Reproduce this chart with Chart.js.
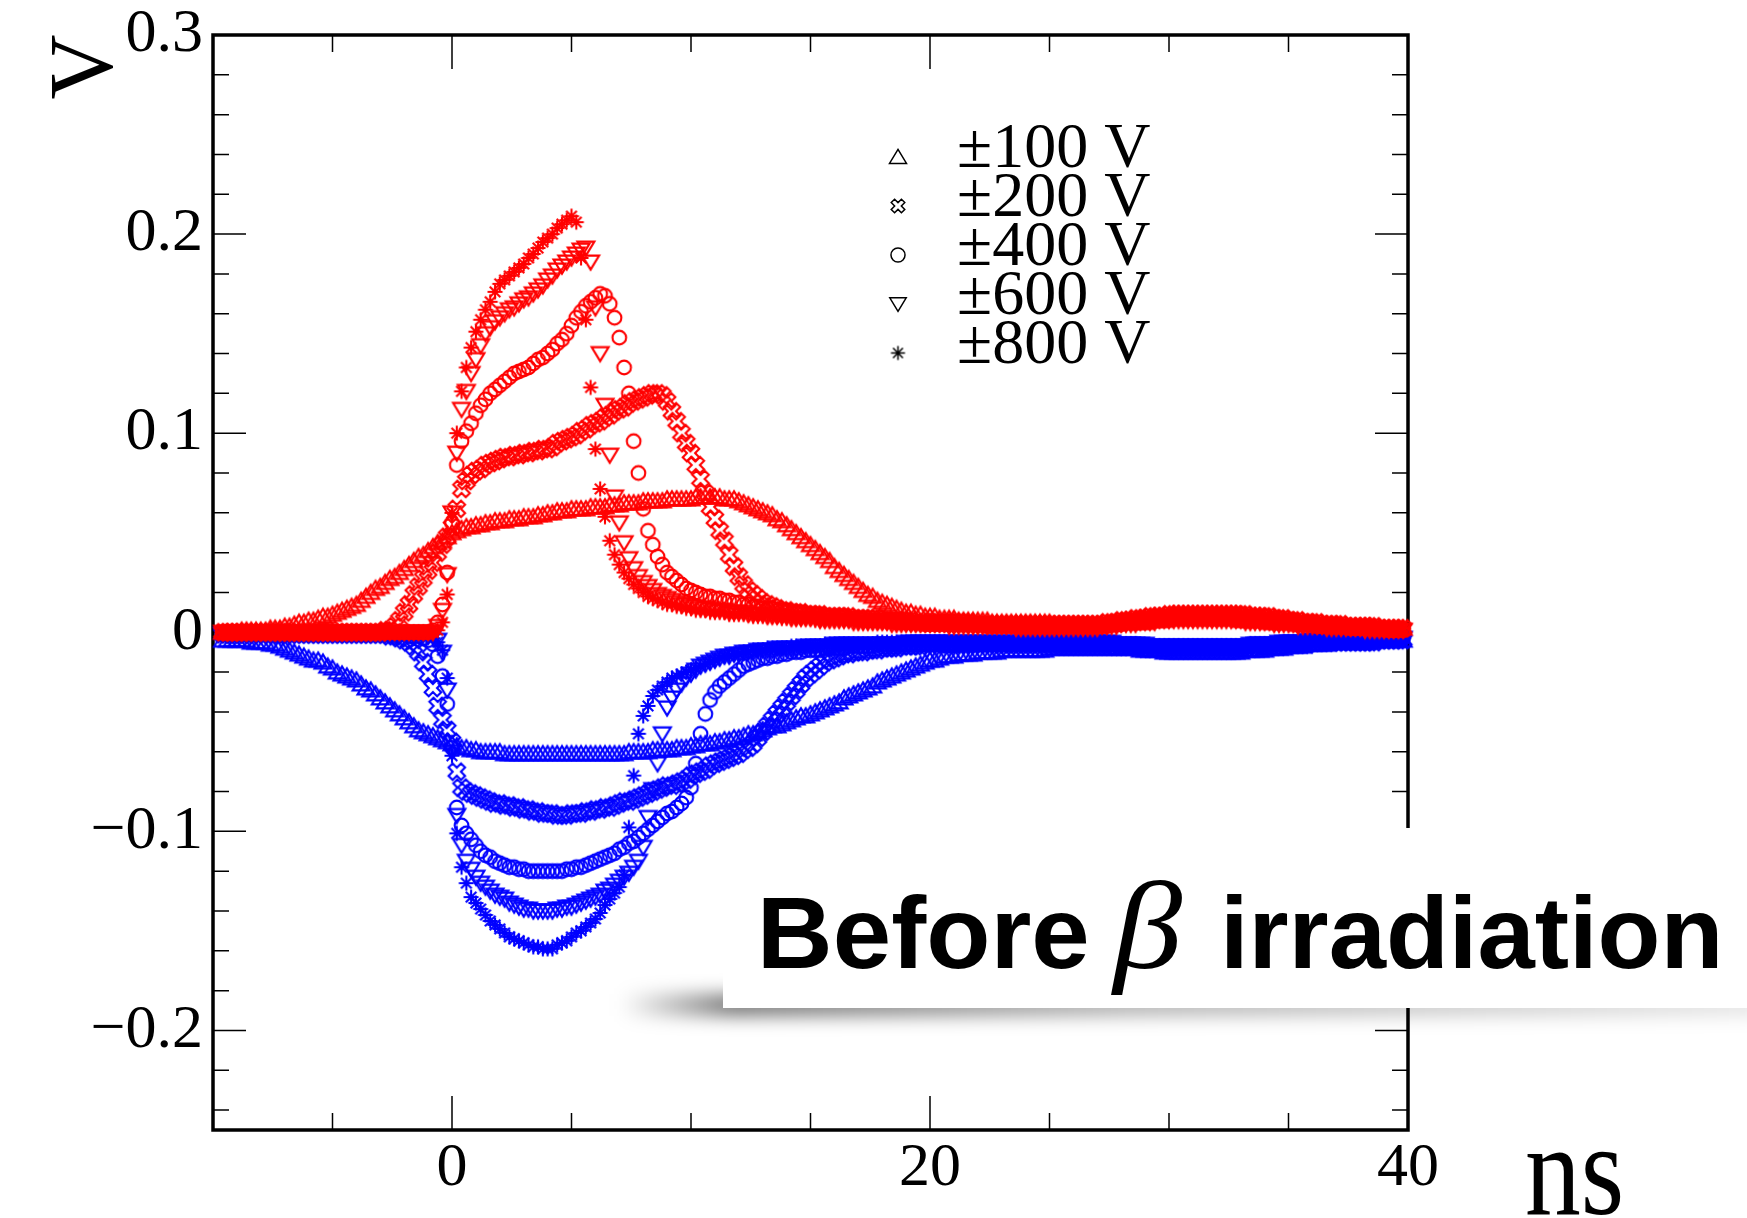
<!DOCTYPE html>
<html lang="en">

<head>
    <meta charset="UTF-8">
    <title>Signal pulses - before beta irradiation</title>
    <script src="https://cdn.jsdelivr.net/npm/chart.js"></script>
    <style>
        body { margin: 0; background: #fff; }
        canvas { display: block; }
    </style>
</head>

<body>
    <canvas id="pulseChart" width="1747" height="1218"></canvas>

    <script>
        // sample grid of the scope traces (ns)
        const T0 = -9.6;
        const DT = 0.2;

        const voltages = [100, 200, 400, 600, 800];
        const xTickValues = [0, 20, 40];
        const yTickValues = [-0.2, -0.1, 0, 0.1, 0.2, 0.3];

        // positive bias pulses, mV
        const red100 = [
            0,0,0,0,1,1,1,1,1,1,
            2,2,2,3,3,4,5,5,6,6,
            7,8,8,9,10,11,12,13,14,16,
            18,20,22,23,25,27,28,30,32,34,
            36,38,39,41,43,45,46,48,50,51,
            52,53,53,54,54,55,55,56,56,56,
            57,57,57,58,58,58,59,59,60,60,
            61,61,61,62,62,62,62,63,63,63,
            63,64,64,64,65,65,65,65,66,66,
            66,66,66,67,67,67,67,67,67,68,
            68,68,68,68,68,67,67,67,66,65,
            64,63,62,61,60,59,57,56,54,52,
            50,48,46,44,42,40,38,36,33,31,
            29,27,25,23,21,19,18,16,15,14,
            13,12,11,10,10,9,9,8,8,8,
            7,7,7,7,6,6,6,6,6,6,
            6,5,5,5,5,5,5,5,5,5,
            5,5,5,5,4,4,4,4,4,4,
            4,4,4,4,4,4,4,5,5,5,
            5,5,5,5,6,6,6,6,7,7,
            7,7,7,7,7,7,7,7,7,7,
            7,7,7,6,6,6,6,6,6,5,
            5,5,5,5,5,4,4,4,4,4,
            4,4,3,3,3,3,3,3,3,3,
            3,2,2,2,2,2,2,2
        ];
        const red200 = [
            0,0,0,0,0,0,0,0,0,0,
            0,0,0,0,0,0,0,0,0,0,
            0,0,0,0,0,0,0,0,0,0,
            0,0,0,0,1,1,3,6,10,14,
            19,23,27,31,35,40,44,48,53,62,
            72,76,79,81,82,84,85,86,87,88,
            88,89,89,90,90,91,91,92,92,93,
            95,96,97,98,99,101,102,104,105,106,
            108,109,111,112,113,115,116,117,118,119,
            120,120,119,116,111,106,100,95,90,84,
            77,70,63,57,51,46,39,33,28,24,
            21,19,17,15,14,13,12,11,11,10,
            10,10,9,9,9,9,8,8,8,8,
            8,8,7,7,7,7,7,7,6,6,
            6,6,6,6,6,5,5,5,5,5,
            5,5,5,5,5,5,5,4,4,4,
            4,4,4,4,4,4,4,4,4,4,
            4,4,4,4,4,4,4,4,4,4,
            4,4,4,4,4,5,5,5,6,6,
            6,7,7,7,8,8,8,8,9,9,
            9,9,9,9,9,9,9,9,9,9,
            9,9,9,9,9,8,8,8,8,8,
            7,7,7,6,6,6,5,5,5,5,
            4,4,4,4,4,3,3,3,3,3,
            3,3,2,2,2,2,2,2
        ];
        const red400 = [
            0,0,0,0,0,0,0,0,0,0,
            0,0,0,0,0,0,0,0,0,0,
            0,0,0,0,0,0,0,0,0,0,
            0,0,0,0,0,0,0,0,0,0,
            0,0,0,0,1,5,14,30,55,84,
            96,101,105,110,114,117,120,122,124,126,
            128,130,131,132,133,135,137,138,140,142,
            145,147,150,154,158,161,164,166,168,170,
            169,165,158,148,133,120,96,80,62,51,
            44,38,34,30,28,26,24,22,21,20,
            19,18,18,17,17,16,16,15,15,14,
            14,13,13,12,12,12,11,11,11,10,
            10,10,9,9,9,9,8,8,8,8,
            8,7,7,7,7,6,6,6,6,6,
            6,5,5,5,5,5,5,4,4,4,
            4,4,4,4,4,4,4,4,4,4,
            3,3,3,3,3,3,3,3,3,3,
            3,3,3,3,3,3,3,3,3,3,
            3,3,3,3,3,3,4,4,4,5,
            5,5,6,6,6,7,7,7,7,7,
            8,8,8,8,8,8,8,8,8,8,
            8,8,7,7,7,7,7,6,6,6,
            6,5,5,5,5,4,4,4,4,3,
            3,3,3,3,3,3,2,2,2,2,
            2,2,2,2,1,1,1,1
        ];
        const red600 = [
            0,0,0,0,0,0,0,0,0,0,
            0,0,0,0,0,0,0,0,0,0,
            0,0,0,0,0,0,0,0,0,0,
            0,0,0,0,0,0,0,0,0,0,
            0,0,0,0,0,3,11,29,60,90,
            112,121,130,137,144,150,153,156,158,160,
            162,163,165,167,168,170,172,174,177,179,
            182,184,186,188,190,192,193,186,163,140,
            114,89,68,55,45,37,32,28,25,23,
            21,19,18,17,16,15,14,14,13,13,
            12,12,12,11,11,11,10,10,10,10,
            9,9,9,9,8,8,8,8,8,7,
            7,7,7,7,7,6,6,6,6,6,
            6,6,5,5,5,5,5,5,5,5,
            4,4,4,4,4,4,4,4,4,4,
            4,4,3,3,3,3,3,3,3,3,
            3,3,3,3,3,3,2,2,2,2,
            2,2,2,2,2,2,2,2,2,2,
            2,2,2,2,3,3,3,3,4,4,
            4,4,5,5,5,5,6,6,6,6,
            6,6,6,6,6,6,6,6,6,6,
            6,6,6,6,5,5,5,5,5,5,
            4,4,4,4,4,3,3,3,3,3,
            3,2,2,2,2,2,2,2,2,1,
            1,1,1,1,1,1,1,1
        ];
        const red800 = [
            0,0,0,0,0,0,0,0,0,0,
            0,0,0,0,0,0,0,0,0,0,
            0,0,0,0,0,0,0,0,0,0,
            0,0,0,0,0,0,0,0,0,0,
            0,0,0,0,0,1,5,19,60,100,
            121,133,143,151,157,162,166,171,175,177,
            179,181,183,185,188,190,193,196,198,200,
            203,205,207,209,206,188,157,123,92,72,
            58,46,39,34,30,27,24,22,20,18,
            17,16,15,14,14,13,13,12,12,11,
            11,11,10,10,10,10,9,9,9,9,
            9,8,8,8,8,8,8,7,7,7,
            7,7,7,7,6,6,6,6,6,6,
            6,6,6,5,5,5,5,5,5,5,
            5,5,5,5,5,4,4,4,4,4,
            4,4,4,4,4,4,4,4,4,4,
            4,4,4,4,4,4,4,4,4,4,
            4,4,4,4,4,4,4,4,4,4,
            4,4,4,4,5,5,5,6,6,7,
            7,7,8,8,8,9,9,9,9,10,
            10,10,10,10,10,10,10,10,10,10,
            10,10,10,9,9,9,9,9,8,8,
            8,7,7,7,6,6,6,5,5,5,
            5,4,4,4,4,4,3,3,3,3,
            3,3,3,2,2,2,2,2
        ];

        // negative bias pulses, mV
        const blue100 = [
            -4,-4,-4,-4,-4,-4,-5,-5,-5,-5,
            -6,-6,-7,-8,-9,-10,-11,-12,-13,-14,
            -14,-15,-17,-18,-20,-21,-22,-23,-24,-26,
            -28,-29,-31,-33,-35,-37,-39,-41,-43,-45,
            -47,-49,-50,-51,-52,-53,-54,-55,-56,-57,
            -58,-58,-59,-59,-60,-60,-60,-60,-60,-61,
            -61,-61,-61,-61,-61,-61,-61,-61,-61,-61,
            -61,-61,-61,-61,-61,-61,-61,-61,-61,-61,
            -61,-61,-61,-61,-61,-60,-60,-60,-60,-60,
            -59,-59,-59,-59,-59,-58,-58,-58,-57,-57,
            -56,-56,-56,-55,-55,-54,-54,-53,-53,-52,
            -51,-51,-50,-49,-48,-47,-47,-46,-45,-44,
            -43,-42,-42,-41,-40,-39,-38,-37,-36,-35,
            -33,-32,-31,-30,-29,-28,-27,-25,-24,-23,
            -22,-21,-20,-19,-18,-17,-16,-15,-14,-14,
            -13,-12,-12,-12,-11,-11,-11,-11,-10,-10,
            -10,-10,-10,-9,-9,-9,-9,-9,-9,-9,
            -9,-9,-9,-8,-8,-8,-8,-8,-8,-8,
            -8,-8,-8,-8,-8,-8,-8,-8,-8,-8,
            -8,-8,-9,-9,-9,-9,-9,-10,-10,-10,
            -10,-10,-10,-10,-10,-10,-10,-10,-10,-10,
            -10,-10,-10,-10,-9,-9,-9,-9,-9,-8,
            -8,-8,-8,-7,-7,-7,-7,-6,-6,-6,
            -6,-6,-5,-5,-5,-5,-5,-5,-5,-5,
            -5,-4,-4,-4,-4,-4,-4,-4
        ];
        const blue200 = [
            -1,-1,-1,-1,-1,-1,-1,-1,-1,-1,
            -1,-1,-1,-1,-1,-1,-1,-1,-1,-1,
            -1,-1,-1,-1,-1,-1,-1,-1,-1,-1,
            -1,-1,-1,-1,-1,-2,-2,-3,-4,-5,
            -7,-10,-15,-21,-28,-37,-44,-49,-55,-70,
            -78,-80,-81,-82,-83,-84,-85,-86,-86,-87,
            -87,-88,-88,-89,-89,-90,-90,-91,-91,-91,
            -92,-92,-92,-91,-91,-91,-90,-90,-89,-89,
            -88,-88,-87,-86,-85,-85,-84,-83,-82,-81,
            -80,-79,-78,-77,-77,-76,-75,-74,-72,-71,
            -70,-69,-67,-66,-65,-64,-63,-62,-61,-59,
            -58,-56,-53,-50,-47,-44,-41,-38,-35,-32,
            -29,-26,-23,-21,-19,-17,-15,-14,-13,-12,
            -11,-11,-10,-10,-10,-9,-9,-9,-8,-8,
            -8,-8,-7,-7,-7,-7,-7,-6,-6,-6,
            -6,-6,-6,-6,-6,-6,-6,-6,-6,-6,
            -6,-6,-6,-6,-6,-6,-6,-6,-6,-6,
            -6,-6,-6,-6,-6,-6,-6,-6,-6,-6,
            -6,-6,-6,-6,-6,-6,-6,-7,-7,-7,
            -7,-7,-7,-8,-8,-8,-8,-8,-8,-8,
            -8,-8,-8,-8,-8,-8,-8,-8,-8,-8,
            -8,-8,-8,-8,-8,-8,-7,-7,-7,-7,
            -7,-7,-6,-6,-6,-6,-6,-6,-5,-5,
            -5,-5,-5,-5,-5,-5,-5,-5,-5,-5,
            -5,-5,-4,-4,-4,-4,-4,-4
        ];
        const blue400 = [
            -1,-1,-1,-1,-1,-1,-1,-1,-1,-1,
            -1,-1,-1,-1,-1,-1,-1,-1,-1,-1,
            -1,-1,-1,-1,-1,-1,-1,-1,-1,-1,
            -1,-1,-1,-1,-1,-1,-1,-1,-1,-2,
            -2,-2,-3,-4,-6,-12,-22,-36,-58,-88,
            -97,-101,-104,-107,-110,-112,-113,-115,-116,-117,
            -118,-118,-119,-119,-120,-120,-120,-120,-120,-120,
            -120,-120,-119,-119,-118,-118,-117,-116,-115,-114,
            -113,-112,-111,-109,-108,-106,-105,-103,-101,-99,
            -97,-95,-93,-91,-90,-88,-86,-83,-78,-66,
            -51,-41,-34,-30,-27,-25,-23,-21,-19,-17,
            -16,-15,-14,-13,-13,-12,-12,-11,-11,-10,
            -10,-10,-9,-9,-9,-9,-8,-8,-8,-8,
            -8,-7,-7,-7,-7,-7,-7,-6,-6,-6,
            -6,-6,-6,-6,-6,-6,-6,-6,-6,-6,
            -6,-6,-6,-6,-6,-6,-6,-6,-6,-6,
            -6,-6,-6,-6,-6,-6,-5,-5,-5,-5,
            -5,-5,-5,-5,-5,-5,-5,-5,-5,-5,
            -5,-5,-5,-5,-5,-6,-6,-6,-6,-6,
            -6,-6,-7,-7,-7,-7,-7,-7,-7,-7,
            -7,-7,-7,-7,-7,-7,-7,-7,-7,-7,
            -7,-7,-7,-7,-7,-6,-6,-6,-6,-6,
            -6,-6,-5,-5,-5,-5,-5,-5,-4,-4,
            -4,-4,-4,-4,-4,-4,-4,-4,-4,-4,
            -4,-4,-4,-3,-3,-3,-3,-3
        ];
        const blue600 = [
            -1,-1,-1,-1,-1,-1,-1,-1,-1,-1,
            -1,-1,-1,-1,-1,-1,-1,-1,-1,-1,
            -1,-1,-1,-1,-1,-1,-1,-1,-1,-1,
            -1,-1,-1,-1,-1,-1,-1,-1,-1,-1,
            -1,-1,-1,-2,-2,-4,-10,-29,-60,-92,
            -107,-115,-119,-123,-126,-128,-130,-132,-133,-134,
            -136,-137,-138,-139,-139,-140,-140,-140,-140,-140,
            -139,-139,-138,-138,-137,-136,-135,-134,-133,-132,
            -130,-129,-127,-125,-123,-121,-118,-115,-108,-93,
            -79,-66,-51,-38,-33,-29,-26,-23,-21,-19,
            -17,-16,-15,-14,-13,-12,-12,-11,-11,-10,
            -10,-10,-9,-9,-9,-9,-8,-8,-8,-8,
            -8,-8,-7,-7,-7,-7,-7,-7,-6,-6,
            -6,-6,-6,-6,-6,-6,-6,-6,-6,-6,
            -6,-6,-6,-5,-5,-5,-5,-5,-5,-5,
            -5,-5,-5,-5,-5,-5,-5,-5,-5,-5,
            -5,-5,-5,-5,-5,-5,-5,-5,-5,-5,
            -5,-5,-5,-5,-5,-5,-5,-5,-5,-5,
            -5,-5,-5,-5,-5,-5,-5,-6,-6,-6,
            -6,-6,-6,-6,-7,-7,-7,-7,-7,-7,
            -7,-7,-7,-7,-7,-7,-7,-7,-7,-7,
            -7,-7,-7,-7,-7,-6,-6,-6,-6,-6,
            -6,-5,-5,-5,-5,-5,-5,-4,-4,-4,
            -4,-4,-4,-4,-4,-4,-4,-4,-4,-4,
            -4,-4,-3,-3,-3,-3,-3,-3
        ];
        const blue800 = [
            -1,-1,-1,-1,-1,-1,-1,-1,-1,-1,
            -1,-1,-1,-1,-1,-1,-1,-1,-1,-1,
            -1,-1,-1,-1,-1,-1,-1,-1,-1,-1,
            -1,-1,-1,-1,-1,-1,-1,-1,-1,-1,
            -1,-1,-1,-2,-3,-5,-9,-23,-62,-101,
            -118,-126,-133,-136,-139,-142,-145,-147,-149,-151,
            -153,-154,-155,-156,-157,-158,-158,-159,-159,-159,
            -157,-156,-155,-153,-151,-150,-148,-146,-144,-141,
            -137,-134,-131,-128,-122,-98,-72,-51,-42,-37,
            -32,-29,-27,-25,-23,-22,-21,-20,-19,-18,
            -17,-16,-15,-14,-13,-12,-12,-11,-11,-10,
            -10,-9,-9,-9,-8,-8,-8,-8,-8,-7,
            -7,-7,-7,-7,-7,-7,-6,-6,-6,-6,
            -6,-6,-6,-6,-6,-6,-6,-5,-5,-5,
            -5,-5,-5,-5,-5,-5,-5,-5,-5,-5,
            -5,-5,-5,-5,-5,-5,-5,-5,-5,-5,
            -5,-5,-5,-5,-5,-5,-5,-5,-5,-5,
            -5,-5,-5,-5,-5,-5,-5,-5,-5,-5,
            -5,-5,-5,-5,-5,-5,-6,-6,-6,-6,
            -6,-6,-6,-7,-7,-7,-7,-7,-7,-7,
            -7,-7,-7,-7,-7,-7,-7,-7,-7,-7,
            -7,-7,-7,-7,-7,-6,-6,-6,-6,-6,
            -6,-6,-5,-5,-5,-5,-5,-5,-5,-4,
            -4,-4,-4,-4,-4,-4,-4,-4,-4,-4,
            -4,-4,-4,-3,-3,-3,-3,-3
        ];

        const redSeries = [red100, red200, red400, red600, red800];
        const blueSeries = [blue100, blue200, blue400, blue600, blue800];
        const markerShapes = ['triUp', 'xOpen', 'circle', 'triDown', 'star'];
        // half-sizes in px, plot markers and legend markers
        const markerSizes = [8.5, 8.8, 7.2, 8.5, 7.5];
        const legendSizes = [8.5, 7.2, 7.4, 8.2, 7];

        const SERIF = '"Liberation Serif", "Times New Roman", serif';
        const SANS = '"Liberation Sans", Arial, sans-serif';

        // small open markers, drawn once into offscreen canvases
        function makeMarker(shape, color, r, lw) {
            const s = Math.ceil(2 * r + 2 * lw + 2);
            const c = document.createElement('canvas');
            c.width = c.height = s;
            const g = c.getContext('2d');
            g.translate(s / 2, s / 2);
            g.strokeStyle = color;
            g.lineWidth = lw;
            g.beginPath();
            if (shape === 'circle') {
                g.arc(0, 0, r * 0.95, 0, Math.PI * 2);
            } else if (shape === 'triUp' || shape === 'triDown') {
                const d = shape === 'triUp' ? 1 : -1;
                g.moveTo(0, -r * 0.9 * d);
                g.lineTo(r, r * 0.75 * d);
                g.lineTo(-r, r * 0.75 * d);
                g.closePath();
            } else if (shape === 'xOpen') {
                const a = r * 0.33, b = r;
                const pts = [[-a, -b], [a, -b], [a, -a], [b, -a], [b, a], [a, a], [a, b], [-a, b], [-a, a], [-b, a], [-b, -a], [-a, -a]];
                g.rotate(Math.PI / 4);
                pts.forEach(([x, y], i) => i ? g.lineTo(x, y) : g.moveTo(x, y));
                g.closePath();
            } else if (shape === 'star') {
                for (let k = 0; k < 4; k++) {
                    const an = k * Math.PI / 4;
                    g.moveTo(-r * Math.cos(an), -r * Math.sin(an));
                    g.lineTo(r * Math.cos(an), r * Math.sin(an));
                }
            }
            g.stroke();
            return c;
        }

        function toPoints(mv) {
            return mv.map((v, i) => ({ x: T0 + i * DT, y: v / 1000 }));
        }

        // first dataset is painted last, so red 800 V ends up on top
        const datasets = [];
        [[redSeries, '#ff0000', '+'], [blueSeries, '#0000ff', '\u2212']].forEach(([series, color, sign]) => {
            for (let k = voltages.length - 1; k >= 0; k--) {
                datasets.push({
                    label: sign + voltages[k] + ' V',
                    data: toPoints(series[k]),
                    pointStyle: makeMarker(markerShapes[k], color, markerSizes[k], 2.1),
                    pointRadius: 8,
                    clip: false
                });
            }
        });

        const legendMarkers = markerShapes.map((s, k) => makeMarker(s, '#000', legendSizes[k], 1.5));

        function drawFitted(ctx, text, left, right, baseline, sy = 1) {
            const m = ctx.measureText(text);
            const sx = (right - left) / (m.actualBoundingBoxLeft + m.actualBoundingBoxRight);
            ctx.save();
            ctx.translate(left, baseline);
            ctx.scale(sx, sy);
            ctx.fillText(text, m.actualBoundingBoxLeft, 0);
            ctx.restore();
        }

        const framePlugin = {
            id: 'frame',
            beforeDatasetsDraw(chart) {
                const { ctx, chartArea: a, scales: { x, y } } = chart;
                ctx.save();
                ctx.strokeStyle = '#000';
                ctx.lineWidth = 1.5;
                ctx.beginPath();
                for (let v = -10; v <= 40; v += 5) {
                    const px = x.getPixelForValue(v);
                    const len = v % 20 === 0 ? 34 : 17;
                    ctx.moveTo(px, a.bottom); ctx.lineTo(px, a.bottom - len);
                    ctx.moveTo(px, a.top); ctx.lineTo(px, a.top + len);
                }
                for (let k = -12; k <= 15; k++) {
                    const py = y.getPixelForValue(k * 0.02);
                    const len = k % 5 === 0 ? 33 : 16;
                    ctx.moveTo(a.left, py); ctx.lineTo(a.left + len, py);
                    ctx.moveTo(a.right, py); ctx.lineTo(a.right - len, py);
                }
                ctx.stroke();
                ctx.lineWidth = 3.5;
                ctx.strokeRect(a.left, a.top, a.right - a.left, a.bottom - a.top);
                ctx.restore();
            },
            afterDraw(chart) {
                const ctx = chart.ctx;
                ctx.save();
                ctx.fillStyle = '#000';

                // legend
                ctx.font = '64px ' + SERIF;
                ctx.textAlign = 'left';
                ctx.textBaseline = 'alphabetic';
                voltages.forEach((v, k) => {
                    const base = 167 + 49 * k;
                    const m = legendMarkers[k];
                    ctx.drawImage(m, 898 - m.width / 2, base - 10 - m.height / 2);
                    ctx.fillText('\u00b1' + v + ' V', 957, base);
                });

                // axis titles
                ctx.save();
                ctx.font = '90px ' + SERIF;
                ctx.textAlign = 'center';
                ctx.translate(112, 67);
                ctx.rotate(-Math.PI / 2);
                ctx.fillText('V', 0, 0);
                ctx.restore();
                ctx.font = '105px ' + SERIF;
                drawFitted(ctx, 'ns', 1527, 1621, 1214, 1.25);

                // caption card with a soft drop shadow
                ctx.save();
                ctx.filter = 'blur(9px)';
                const g = ctx.createLinearGradient(620, 0, 1747, 0);
                g.addColorStop(0, 'rgba(0,0,0,0)');
                g.addColorStop(0.1, 'rgba(0,0,0,0.55)');
                g.addColorStop(0.45, 'rgba(0,0,0,0.3)');
                g.addColorStop(1, 'rgba(0,0,0,0.1)');
                ctx.fillStyle = g;
                ctx.fillRect(620, 994, 1140, 22);
                ctx.restore();
                ctx.fillStyle = '#fff';
                ctx.fillRect(723, 828, 1024, 180);

                ctx.fillStyle = '#000';
                ctx.font = 'bold 102px ' + SANS;
                drawFitted(ctx, 'Before', 763, 1087, 968);
                drawFitted(ctx, 'irradiation', 1227, 1717, 968);
                ctx.font = 'italic 125px ' + SERIF;
                drawFitted(ctx, '\u03b2', 1110, 1183, 968);
                ctx.restore();
            }
        };

        const tickFont = { family: SERIF, size: 62, lineHeight: 1 };

        new Chart(document.getElementById('pulseChart').getContext('2d'), {
            type: 'scatter',
            data: { datasets },
            options: {
                responsive: false,
                devicePixelRatio: 1,
                animation: false,
                events: [],
                layout: { padding: { left: 0, top: 35, right: 339, bottom: 0 } },
                plugins: {
                    legend: { display: false },
                    tooltip: { enabled: false }
                },
                scales: {
                    x: {
                        type: 'linear',
                        min: -10,
                        max: 40,
                        grid: { display: false, drawTicks: false },
                        border: { display: false },
                        ticks: {
                            font: tickFont,
                            color: '#000',
                            padding: 8,
                            maxRotation: 0,
                            autoSkip: false,
                            callback: v => String(v)
                        },
                        afterBuildTicks: s => { s.ticks = xTickValues.map(v => ({ value: v })); },
                        afterFit: s => { s.height = 88; s.paddingLeft = 0; s.paddingRight = 0; }
                    },
                    y: {
                        type: 'linear',
                        min: -0.25,
                        max: 0.3,
                        grid: { display: false, drawTicks: false },
                        border: { display: false },
                        ticks: {
                            font: tickFont,
                            color: '#000',
                            padding: 10,
                            callback: v => v === 0 ? '0' : (v < 0 ? '\u2212' : '') + Math.abs(v).toFixed(1)
                        },
                        afterBuildTicks: s => { s.ticks = yTickValues.map(v => ({ value: v })); },
                        afterFit: s => { s.width = 213; s.paddingTop = 0; s.paddingBottom = 0; }
                    }
                }
            },
            plugins: [framePlugin]
        });
    </script>
</body>

</html>
